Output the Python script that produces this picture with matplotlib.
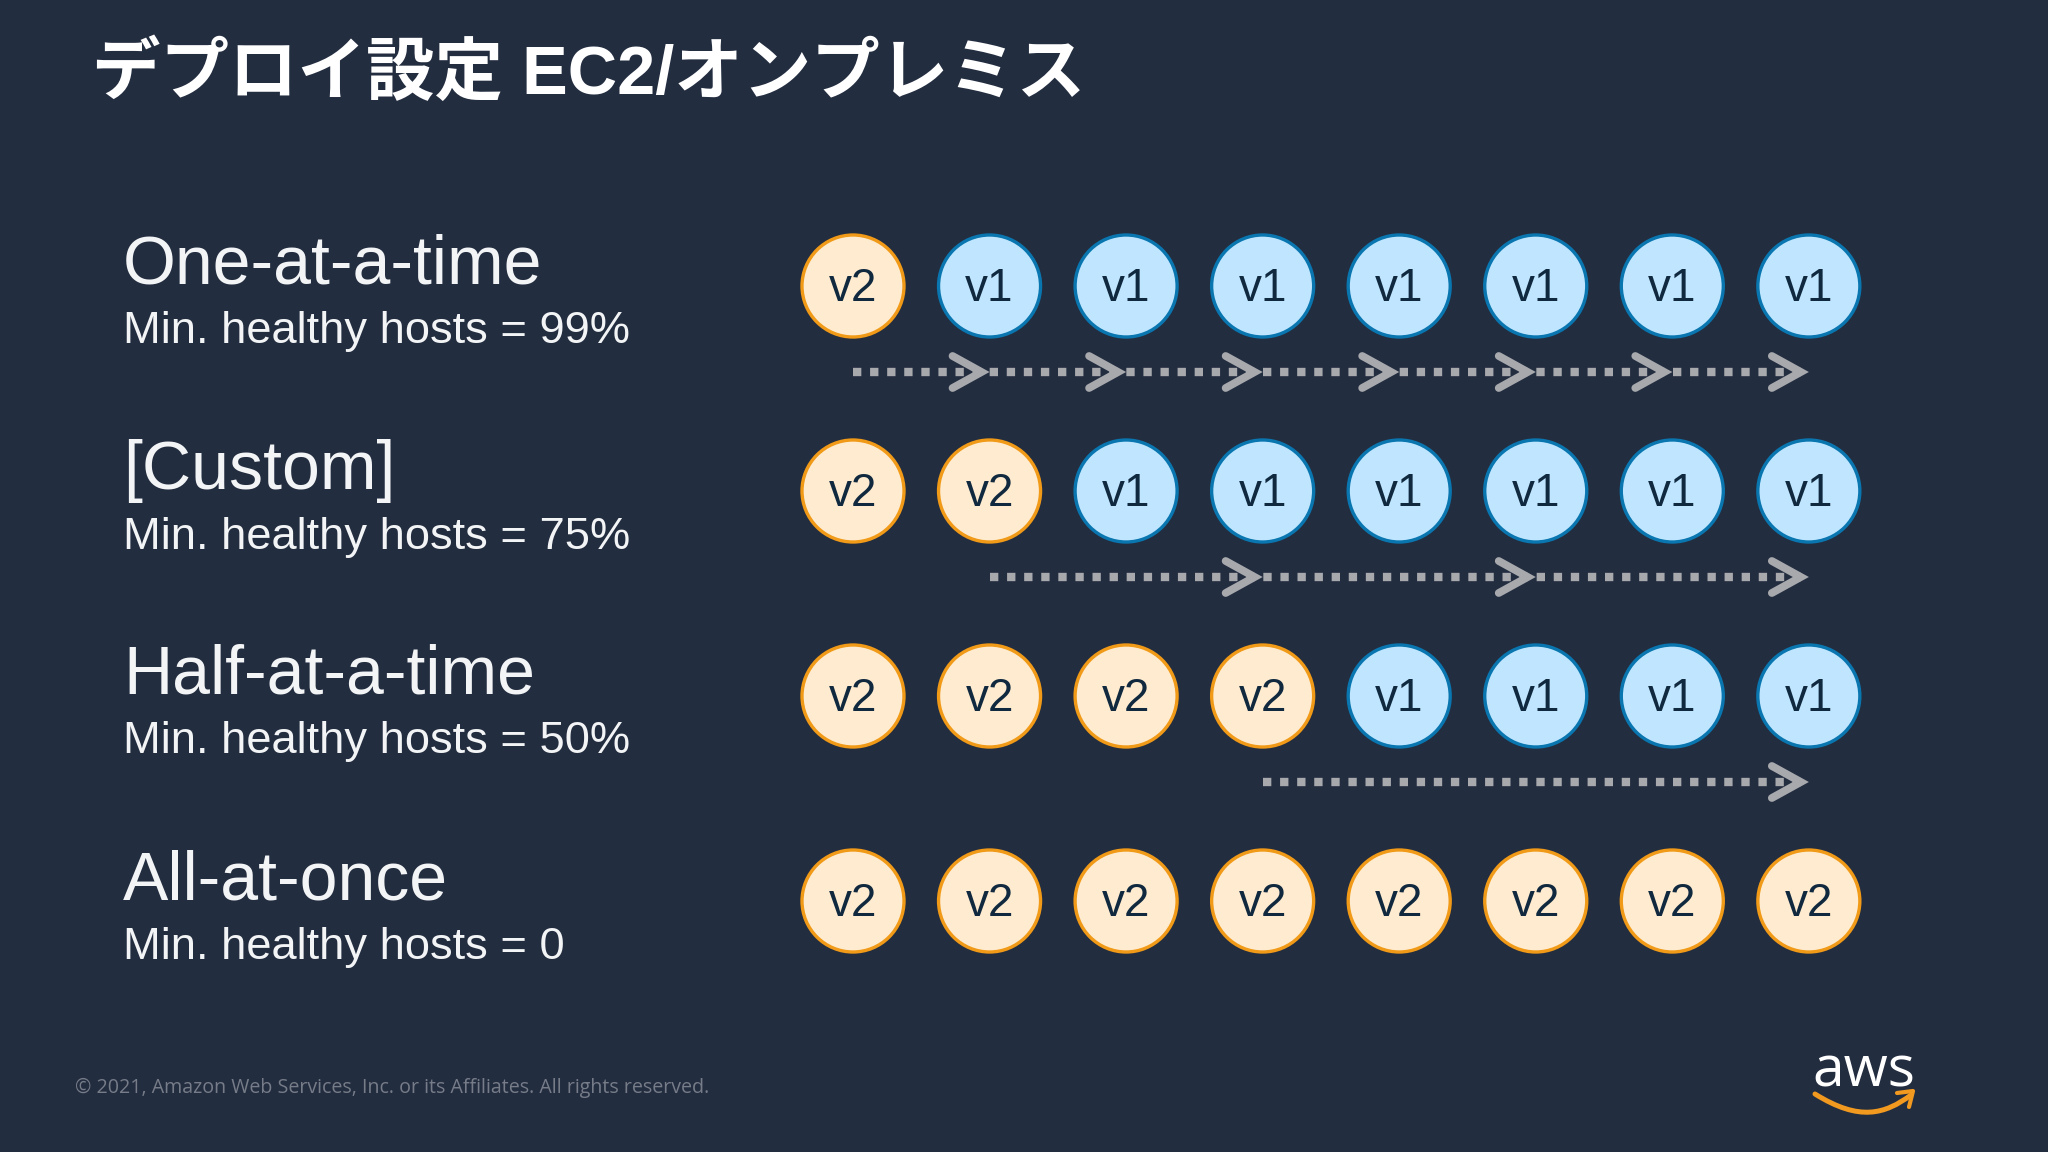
import matplotlib
matplotlib.use("Agg")
import matplotlib.pyplot as plt
from matplotlib.patches import Circle, PathPatch
from matplotlib.path import Path

plt.rcParams['font.family'] = ['Liberation Sans', 'Noto Sans CJK JP', 'DejaVu Sans']

title = "デプロイ設定 EC2/オンプレミス"
footer = "© 2021, Amazon Web Services, Inc. or its Affiliates. All rights reserved."
names = ["One-at-a-time", "[Custom]", "Half-at-a-time", "All-at-once"]
subs = ["Min. healthy hosts = 99%", "Min. healthy hosts = 75%",
        "Min. healthy hosts = 50%", "Min. healthy hosts = 0"]
upgraded = [1, 2, 4, 8]          # hosts on v2 in each row
n_hosts = 8
arrow_tips = [[1, 2, 3, 4, 5, 6, 7], [3, 5, 7], [7], []]
arrow_start = [0, 1, 3, None]

BG = "#232D40"
X0, DX, Y0, DY, R = 853, 136.55, 286, 205, 51

fig = plt.figure(figsize=(20.48, 11.52), dpi=100, facecolor=BG)
ax = fig.add_axes([0, 0, 1, 1])
ax.set_xlim(0, 2048)
ax.set_ylim(1152, 0)
ax.axis("off")

ax.text(92, 75, title, color="white", fontsize=49.3, fontweight="bold", va="center", ha="left",
        family=['Liberation Sans', 'Noto Sans CJK JP'])

for r in range(4):
    y = Y0 + r * DY
    ax.text(123, y - 20, names[r], color="#F2F4F5", fontsize=49, va="center", ha="left")
    ax.text(123, y + 46, subs[r], color="#F2F4F5", fontsize=32.6, va="center", ha="left")
    for c in range(n_hosts):
        x = X0 + c * DX
        v2 = c < upgraded[r]
        ax.add_patch(Circle((x, y), R, facecolor="#FFEBCF" if v2 else "#C0E6FF",
                            edgecolor="#F09A18" if v2 else "#0A76B0", linewidth=2.4, zorder=2))
        ax.text(x, y + 3, "v2" if v2 else "v1", color="#10293F", fontsize=33,
                ha="center", va="center", zorder=3)
    if arrow_start[r] is not None:
        ya = y + 86
        xs = X0 + arrow_start[r] * DX
        xe = X0 + arrow_tips[r][-1] * DX
        ax.plot([xs, xe - 8], [ya, ya], color="#A7A9AD", lw=6, linestyle=(0, (1, 1.05)),
                dash_capstyle="butt", zorder=2)
        for t in arrow_tips[r]:
            xt = X0 + t * DX
            ax.plot([xt - 37, xt - 8, xt - 37], [ya - 16, ya, ya + 16], color="#A7A9AD", lw=5.6,
                    solid_capstyle="round", solid_joinstyle="miter", zorder=3)

ax.text(75, 1088, footer, color="#767C88", fontsize=14.1, va="center", ha="left",
        family=['Open Sans', 'DejaVu Sans'])

# AWS logo
ax.text(1864, 1072, "aws", color="white", fontsize=41, ha="center", va="center",
        family=['Open Sans', 'DejaVu Sans'])
smile = Path([(1815, 1094), (1860, 1122), (1885, 1114), (1911, 1095)],
             [Path.MOVETO, Path.CURVE4, Path.CURVE4, Path.CURVE4])
ax.add_patch(PathPatch(smile, facecolor="none", edgecolor="#F29A1F", lw=3.6, capstyle="round"))
ax.plot([1897, 1913, 1909], [1093, 1091, 1107], color="#F29A1F", lw=3, solid_capstyle="round")

fig.savefig("out.png", dpi=100, facecolor=BG)
